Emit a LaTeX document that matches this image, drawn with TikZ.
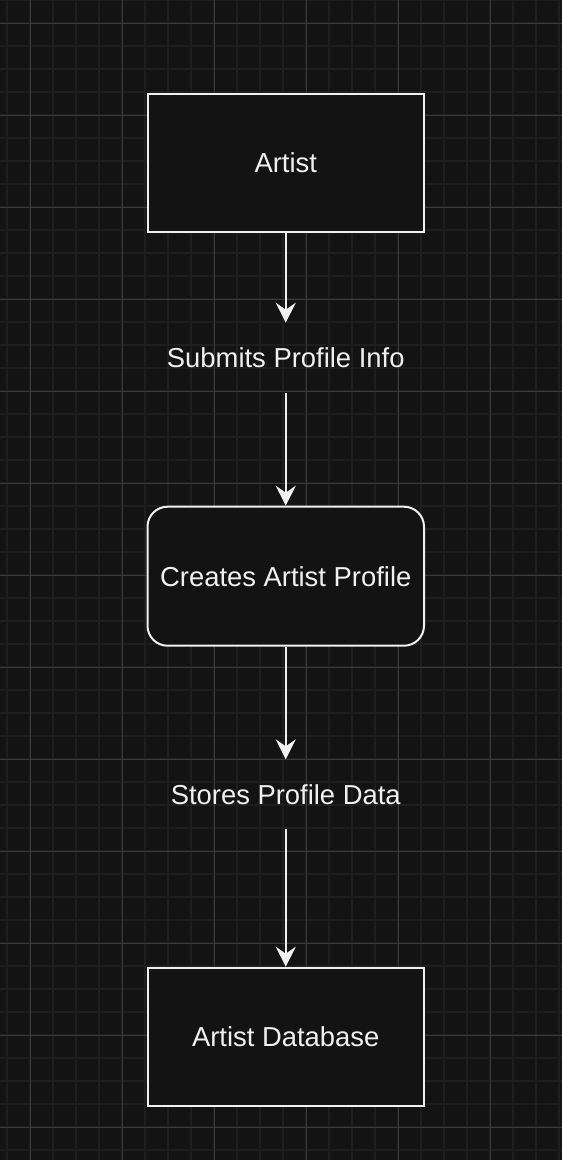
\documentclass[tikz,border=0pt]{standalone}
\usepackage{fontspec}
\setmainfont{Liberation Sans}
\usetikzlibrary{arrows.meta}
\definecolor{bg}{HTML}{131313}
\definecolor{minorgrid}{HTML}{1E1E1E}
\definecolor{majorgrid}{HTML}{3A3A3A}
\definecolor{ink}{HTML}{F0F0F0}
\tikzset{
  boxnode/.style={draw=ink, line width=2pt, fill=bg, minimum width=276.5pt,
    minimum height=138pt, inner sep=0pt, text=ink,
    font=\fontsize{27.4}{33}\selectfont},
  roundbox/.style={boxnode, rounded corners=20pt},
  flowlabel/.style={inner sep=0pt, outer sep=0pt, text height=20pt, text depth=0pt,
    text=ink, font=\fontsize{27.4}{33}\selectfont},
  flow/.style={draw=ink, line width=2pt, -{Stealth[length=20pt,width=20pt,inset=7pt]}},
  minorline/.style={draw=minorgrid, line width=1.6pt},
  majorline/.style={draw=majorgrid, line width=1pt}
}
\begin{document}
\begin{tikzpicture}[x=1pt, y=-1pt]
  \fill[bg] (0,0) rectangle (562,1160);
  \useasboundingbox (0,0) rectangle (562,1160);
  % grid
  \foreach \i in {0,...,24} \draw[minorline] ({7+23*\i},0) -- ({7+23*\i},1160);
  \foreach \i in {0,...,50} \draw[minorline] (0,{23*\i}) -- (562,{23*\i});
  \foreach \i in {0,...,5} \draw[majorline] ({30+92*\i},0) -- ({30+92*\i},1160);
  \foreach \i in {0,...,12} \draw[majorline] (0,{23+92*\i}) -- (562,{23+92*\i});
  % nodes
  \node[boxnode] (artist) at (285.75,162.6) {Artist};
  \node[flowlabel, minimum height=70pt] (submits) at (285.75,357.7) {Submits Profile Info};
  \node[roundbox, minimum height=139pt] (creates) at (285.75,576.2) {Creates Artist Profile};
  \node[flowlabel, minimum height=69.7pt] (stores) at (285.75,794.2) {Stores Profile Data};
  \node[boxnode] (database) at (285.75,1036.7) {Artist Database};
  % connectors
  \draw[flow] (artist) -- (submits);
  \draw[flow] (submits) -- (creates);
  \draw[flow] (creates) -- (stores);
  \draw[flow] (stores) -- (database);
\end{tikzpicture}
\end{document}
